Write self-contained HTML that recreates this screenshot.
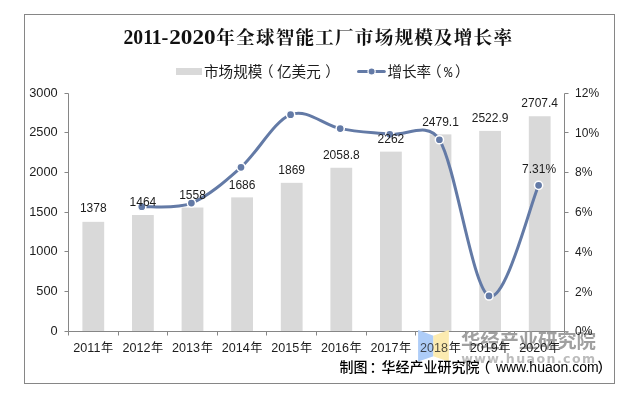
<!DOCTYPE html>
<html lang="zh">
<head>
<meta charset="utf-8">
<title>2011-2020年全球智能工厂市场规模及增长率</title>
<style>
html,body{margin:0;padding:0;background:#fff}
body{width:636px;height:402px;position:relative;overflow:hidden}
svg{position:absolute;left:0;top:0;display:block}
.s{font-family:"Liberation Sans","Noto Sans CJK SC",sans-serif}
.t{font-family:"Liberation Serif","Noto Serif CJK SC",serif}
.m{font-family:"Liberation Mono","Noto Sans CJK SC",monospace}
.d{font-family:"DejaVu Sans","Liberation Sans",sans-serif}
.b{font-weight:bold}
</style>
</head>
<body>
<svg width="636" height="402" viewBox="0 0 636 402">
<rect x="0" y="0" width="636" height="402" fill="#fff"/>
<rect x="24.5" y="14.5" width="590" height="369" fill="#fff" stroke="#868686" stroke-width="1"/>
<rect x="82.40" y="221.84" width="21.8" height="109.66" fill="#d9d9d9"/>
<rect x="132.00" y="215.01" width="21.8" height="116.49" fill="#d9d9d9"/>
<rect x="181.60" y="207.54" width="21.8" height="123.96" fill="#d9d9d9"/>
<rect x="231.20" y="197.38" width="21.8" height="134.12" fill="#d9d9d9"/>
<rect x="280.80" y="182.84" width="21.8" height="148.66" fill="#d9d9d9"/>
<rect x="330.40" y="167.76" width="21.8" height="163.74" fill="#d9d9d9"/>
<rect x="380.00" y="151.62" width="21.8" height="179.88" fill="#d9d9d9"/>
<rect x="429.60" y="134.38" width="21.8" height="197.12" fill="#d9d9d9"/>
<rect x="479.20" y="130.90" width="21.8" height="200.60" fill="#d9d9d9"/>
<rect x="528.80" y="116.24" width="21.8" height="215.26" fill="#d9d9d9"/>
<path d="M68.5 93.5V331.5M68.5 331.5H564.5M564.5 93.5V331.5M64.5 93.5H68.5M564.5 93.5H568.5M64.5 132.5H68.5M564.5 132.5H568.5M64.5 172.5H68.5M564.5 172.5H568.5M64.5 212.5H68.5M564.5 212.5H568.5M64.5 251.5H68.5M564.5 251.5H568.5M64.5 291.5H68.5M564.5 291.5H568.5M64.5 331.5H68.5M564.5 331.5H568.5M68.5 331.5V335.5M118.5 331.5V335.5M167.5 331.5V335.5M217.5 331.5V335.5M266.5 331.5V335.5M316.5 331.5V335.5M366.5 331.5V335.5M415.5 331.5V335.5M465.5 331.5V335.5M514.5 331.5V335.5M564.5 331.5V335.5" stroke="#868686" fill="none" stroke-width="1"/>
<path d="M418.1 330.1L433.4 335.7V356.2L418.1 361.6Z" fill="#aecdf8"/><path d="M433.4 335.7L448.8 330.1V361.6L433.4 356.2Z" fill="#fcebb0"/>
<text class="s b" x="461" y="348.3" font-size="19.4" fill="#a0a0a0" textLength="135" lengthAdjust="spacing">华经产业研究院</text>
<text class="d b" x="461.2" y="363.3" font-size="12.6" fill="#bcbcbc" letter-spacing="1.42">www.huaon.com</text>
<text class="s" x="57.7" y="96.60" text-anchor="end" font-size="12.8" fill="#1c1c1c">3000</text>
<text class="s" x="575.1" y="96.80" font-size="12" fill="#1c1c1c">12%</text>
<text class="s" x="57.7" y="135.60" text-anchor="end" font-size="12.8" fill="#1c1c1c">2500</text>
<text class="s" x="575.1" y="136.55" font-size="12" fill="#1c1c1c">10%</text>
<text class="s" x="57.7" y="175.60" text-anchor="end" font-size="12.8" fill="#1c1c1c">2000</text>
<text class="s" x="575.1" y="176.30" font-size="12" fill="#1c1c1c">8%</text>
<text class="s" x="57.7" y="215.60" text-anchor="end" font-size="12.8" fill="#1c1c1c">1500</text>
<text class="s" x="575.1" y="216.05" font-size="12" fill="#1c1c1c">6%</text>
<text class="s" x="57.7" y="254.60" text-anchor="end" font-size="12.8" fill="#1c1c1c">1000</text>
<text class="s" x="575.1" y="255.80" font-size="12" fill="#1c1c1c">4%</text>
<text class="s" x="57.7" y="294.60" text-anchor="end" font-size="12.8" fill="#1c1c1c">500</text>
<text class="s" x="575.1" y="295.55" font-size="12" fill="#1c1c1c">2%</text>
<text class="s" x="57.7" y="334.60" text-anchor="end" font-size="12.8" fill="#1c1c1c">0</text>
<text class="s" x="575.1" y="335.30" font-size="12" fill="#1c1c1c">0%</text>
<text class="s" x="93.30" y="351.8" text-anchor="middle" font-size="12.6" fill="#1c1c1c">2011<tspan dx="0.6" font-size="12.2">年</tspan></text>
<text class="s" x="142.90" y="351.8" text-anchor="middle" font-size="12.6" fill="#1c1c1c">2012<tspan dx="0.6" font-size="12.2">年</tspan></text>
<text class="s" x="192.50" y="351.8" text-anchor="middle" font-size="12.6" fill="#1c1c1c">2013<tspan dx="0.6" font-size="12.2">年</tspan></text>
<text class="s" x="242.10" y="351.8" text-anchor="middle" font-size="12.6" fill="#1c1c1c">2014<tspan dx="0.6" font-size="12.2">年</tspan></text>
<text class="s" x="291.70" y="351.8" text-anchor="middle" font-size="12.6" fill="#1c1c1c">2015<tspan dx="0.6" font-size="12.2">年</tspan></text>
<text class="s" x="341.30" y="351.8" text-anchor="middle" font-size="12.6" fill="#1c1c1c">2016<tspan dx="0.6" font-size="12.2">年</tspan></text>
<text class="s" x="390.90" y="351.8" text-anchor="middle" font-size="12.6" fill="#1c1c1c">2017<tspan dx="0.6" font-size="12.2">年</tspan></text>
<text class="s" x="440.50" y="351.8" text-anchor="middle" font-size="12.6" fill="#1c1c1c">2018<tspan dx="0.6" font-size="12.2">年</tspan></text>
<text class="s" x="490.10" y="351.8" text-anchor="middle" font-size="12.6" fill="#1c1c1c">2019<tspan dx="0.6" font-size="12.2">年</tspan></text>
<text class="s" x="539.70" y="351.8" text-anchor="middle" font-size="12.6" fill="#1c1c1c">2020<tspan dx="0.6" font-size="12.2">年</tspan></text>
<g opacity="0.22"><path d="M418.1 330.1L433.4 335.7V356.2L418.1 361.6Z" fill="#aecdf8"/><path d="M433.4 335.7L448.8 330.1V361.6L433.4 356.2Z" fill="#fcebb0"/></g>
<path d="M141.80 206.69C150.07 206.10 174.87 209.67 191.40 203.11C207.93 196.54 224.47 182.04 241.00 167.30C257.53 152.56 274.07 121.11 290.60 114.66C307.13 108.21 323.67 125.33 340.20 128.60C356.73 131.88 373.27 132.44 389.80 134.30C406.33 136.15 427.66 120.59 439.40 139.73C455.93 166.67 472.47 288.36 489.00 295.95C505.53 303.55 530.33 203.75 538.60 185.31" stroke="#637aa6" stroke-width="3" fill="none" stroke-linecap="round" stroke-linejoin="round"/>
<circle cx="141.80" cy="206.69" r="4.1" fill="#637aa6" stroke="#fff" stroke-width="1.5"/>
<circle cx="191.40" cy="203.11" r="4.1" fill="#637aa6" stroke="#fff" stroke-width="1.5"/>
<circle cx="241.00" cy="167.30" r="4.1" fill="#637aa6" stroke="#fff" stroke-width="1.5"/>
<circle cx="290.60" cy="114.66" r="4.1" fill="#637aa6" stroke="#fff" stroke-width="1.5"/>
<circle cx="340.20" cy="128.60" r="4.1" fill="#637aa6" stroke="#fff" stroke-width="1.5"/>
<circle cx="389.80" cy="134.30" r="4.1" fill="#637aa6" stroke="#fff" stroke-width="1.5"/>
<circle cx="439.40" cy="139.73" r="4.1" fill="#637aa6" stroke="#fff" stroke-width="1.5"/>
<circle cx="489.00" cy="295.95" r="4.1" fill="#637aa6" stroke="#fff" stroke-width="1.5"/>
<circle cx="538.60" cy="185.31" r="4.1" fill="#637aa6" stroke="#fff" stroke-width="1.5"/>
<text class="s" x="93.30" y="212.34" text-anchor="middle" font-size="12" fill="#1c1c1c">1378</text>
<text class="s" x="142.90" y="205.51" text-anchor="middle" font-size="12" fill="#1c1c1c">1464</text>
<text class="s" x="192.50" y="198.74" text-anchor="middle" font-size="12" fill="#1c1c1c">1558</text>
<text class="s" x="242.10" y="188.88" text-anchor="middle" font-size="12" fill="#1c1c1c">1686</text>
<text class="s" x="291.70" y="174.34" text-anchor="middle" font-size="12" fill="#1c1c1c">1869</text>
<text class="s" x="341.30" y="158.76" text-anchor="middle" font-size="12" fill="#1c1c1c">2058.8</text>
<text class="s" x="390.90" y="143.12" text-anchor="middle" font-size="12" fill="#1c1c1c">2262</text>
<text class="s" x="440.50" y="125.68" text-anchor="middle" font-size="12" fill="#1c1c1c">2479.1</text>
<text class="s" x="490.10" y="122.40" text-anchor="middle" font-size="12" fill="#1c1c1c">2522.9</text>
<text class="s" x="539.70" y="106.74" text-anchor="middle" font-size="12" fill="#1c1c1c">2707.4</text>
<text class="s" x="539.10" y="172.61" text-anchor="middle" font-size="12" fill="#1c1c1c">7.31%</text>
<text class="t b" x="123.5" y="44" fill="#111" font-size="20.5" textLength="38.2" lengthAdjust="spacingAndGlyphs">2011</text>
<text class="t b" x="161.5" y="44" fill="#111" font-size="20.5">-</text>
<text class="t b" x="169.2" y="44" fill="#111" font-size="20.5" textLength="46.4" lengthAdjust="spacingAndGlyphs">2020</text>
<text class="t b" x="216.3" y="44" fill="#111" font-size="18.6" letter-spacing="1.2">年全球智能工厂市场规模及增长率</text>
<rect x="176" y="68" width="26" height="7" fill="#d9d9d9"/>
<text class="s" x="204" y="76.5" font-size="14.6" fill="#1c1c1c">市场规模<tspan dx="-3.5">（</tspan><tspan dx="3.5">亿美元</tspan><tspan dx="4.5">）</tspan></text>
<path d="M358.5 71.5H384.3" stroke="#637aa6" stroke-width="3" stroke-linecap="round"/>
<circle cx="371.6" cy="71.5" r="3.6" fill="#637aa6" stroke="#fff" stroke-width="1.2"/>
<text class="s" x="387.4" y="76.5" font-size="14.6" fill="#1c1c1c">增长率<tspan dx="-4.3">（</tspan><tspan class="m" dx="2.4" font-size="14">%</tspan><tspan dx="2.7">）</tspan></text>
<text class="s" x="339.5" y="371.9" font-size="14" fill="#000" font-weight="500">制图<tspan dx="2">：</tspan><tspan dx="-2">华经产业研究院</tspan><tspan dx="-3.3">（</tspan><tspan dx="5.7" font-weight="400">www.huaon.com</tspan><tspan dx="-1.2">）</tspan></text>
</svg>
</body>
</html>
